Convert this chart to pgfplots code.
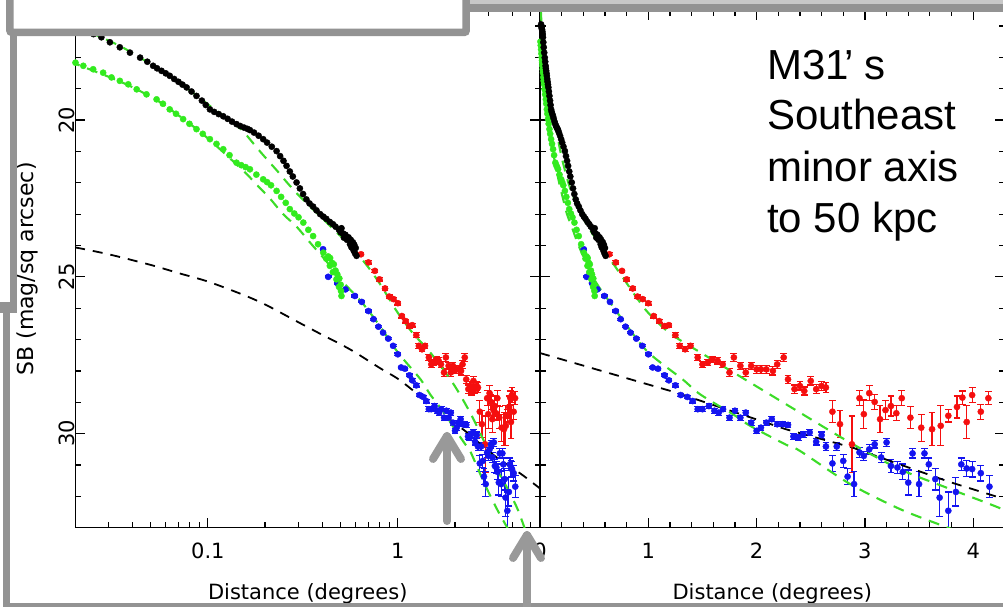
\documentclass[border=0pt]{standalone}
\usepackage{fontspec}
\usepackage{pgfplots}
\usepackage{pgfplotstable}
\pgfplotsset{compat=1.18}
\newfontfamily\pgfont{DejaVu Sans}
\newfontfamily\arialfont{Liberation Sans}
\definecolor{dred}{RGB}{245,15,15}
\definecolor{dblue}{RGB}{20,20,240}
\definecolor{dgreen}{RGB}{50,235,30}
\definecolor{gdash}{RGB}{60,220,40}
\definecolor{boxgray}{RGB}{147,147,147}
\definecolor{lgray}{RGB}{200,200,200}
\definecolor{arrowgray}{RGB}{153,153,153}

\pgfplotstableread{
x y
0.010 16.95
0.013 17.02
0.016 17.07
0.019 17.12
0.022 17.18
0.025 17.26
0.0275 17.36
0.0305 17.52
0.0344 17.68
0.0389 17.85
0.044 18.01
0.048 18.14
0.0515 18.27
0.054 18.35
0.057 18.43
0.060 18.51
0.063 18.59
0.0665 18.69
0.070 18.78
0.0735 18.87
0.0773 18.96
0.082 19.09
0.0871 19.23
0.093 19.38
0.0975 19.52
0.1025 19.66
0.108 19.74
0.114 19.81
0.1205 19.88
0.127 19.96
0.134 20.05
0.1415 20.13
0.148 20.19
0.155 20.24
0.1615 20.28
0.1665 20.32
0.175 20.40
0.185 20.50
0.1955 20.61
0.205 20.72
0.217 20.85
0.230 20.99
0.240 21.15
0.250 21.30
0.2595 21.46
0.270 21.64
0.280 21.80
0.293 21.99
0.305 22.18
0.317 22.36
0.330 22.53
0.343 22.66
0.358 22.76
0.373 22.88
0.390 23.00
0.405 23.08
0.420 23.15
0.4385 23.25
0.455 23.32
0.470 23.40
0.490 23.50
0.500 23.58
0.505 23.45
0.515 23.62
0.520 23.75
0.530 23.66
0.540 23.82
0.550 23.74
0.560 23.96
0.565 23.82
0.570 24.06
0.580 23.90
0.585 24.16
0.590 23.98
0.595 24.25
0.600 24.08
0.606 24.33
}\blackdat

\pgfplotstableread{
x y
0.004 17.50
0.007 17.62
0.010 17.75
0.013 17.88
0.016 18.00
0.0185 18.10
0.0201 18.17
0.0221 18.27
0.0249 18.38
0.0281 18.49
0.0311 18.64
0.0344 18.75
0.0381 18.86
0.0422 19.02
0.0475 19.18
0.0537 19.34
0.058 19.48
0.063 19.66
0.068 19.80
0.0741 19.97
0.080 20.12
0.0871 20.29
0.094 20.44
0.1025 20.61
0.111 20.76
0.1205 20.93
0.130 21.12
0.1415 21.36
0.150 21.44
0.158 21.50
0.1665 21.57
0.180 21.74
0.1955 21.89
0.205 21.98
0.215 22.08
0.230 22.26
0.243 22.45
0.257 22.64
0.270 22.84
0.285 22.98
0.300 23.10
0.318 23.27
0.338 23.50
0.358 23.70
0.380 23.96
0.405 24.23
0.420 24.42
0.430 24.35
0.4385 24.65
0.440 24.40
0.450 24.55
0.455 24.85
0.460 24.60
0.470 24.80
0.475 25.08
0.480 24.92
0.490 25.32
0.492 25.05
0.500 25.25
0.502 25.45
0.505 25.61
}\greendat

\pgfplotstableread{
x y e
0.64 24.28 0.05
0.70 24.54 0.05
0.757 24.81 0.05
0.80 25.08 0.05
0.856 25.37 0.05
0.90 25.63 0.05
0.948 25.71 0.05
1.00 25.84 0.06
1.05 26.25 0.06
1.10 26.41 0.06
1.15 26.57 0.06
1.19 26.54 0.06
1.25 26.86 0.08
1.29 27.20 0.08
1.34 27.31 0.08
1.39 27.20 0.08
1.456 27.57 0.10
1.50 27.79 0.10
1.55 27.73 0.10
1.59 27.63 0.10
1.64 27.68 0.10
1.687 27.79 0.10
1.75 28.05 0.12
1.79 27.57 0.12
1.85 27.84 0.12
1.90 28.05 0.12
1.95 27.84 0.12
2.00 27.95 0.12
2.04 27.95 0.12
2.09 27.95 0.12
2.15 28.00 0.13
2.19 27.79 0.13
2.25 27.57 0.13
2.29 28.27 0.13
2.35 28.58 0.13
2.40 28.48 0.13
2.44 28.64 0.13
2.50 28.32 0.13
2.55 28.58 0.15
2.60 28.48 0.15
2.64 28.53 0.15
2.70 29.30 0.35
2.77 29.70 0.43
2.88 30.34 0.90
2.95 28.87 0.24
2.99 29.38 0.45
3.04 28.71 0.24
3.09 28.99 0.24
3.14 29.54 0.43
3.19 29.25 0.30
3.24 29.12 0.32
3.29 29.35 0.24
3.34 28.87 0.24
3.42 29.49 0.35
3.52 29.81 0.43
3.62 29.86 0.53
3.70 29.75 0.64
3.77 29.43 0.20
3.85 29.15 0.35
3.90 28.85 0.21
3.94 29.63 0.53
3.99 28.77 0.24
4.07 29.30 0.24
4.14 28.87 0.21
}\reddat

\pgfplotstableread{
x y e
0.404 24.12 0.03
0.43 25.00 0.03
0.48 25.20 0.03
0.53 25.40 0.03
0.594 25.61 0.03
0.646 25.80 0.03
0.70 26.09 0.03
0.745 26.35 0.03
0.79 26.59 0.03
0.836 26.78 0.03
0.89 26.97 0.03
0.944 27.20 0.03
1.00 27.47 0.04
1.04 27.89 0.04
1.09 27.93 0.04
1.15 28.14 0.04
1.19 28.30 0.05
1.25 28.46 0.05
1.30 28.77 0.05
1.36 28.83 0.05
1.41 28.96 0.06
1.456 29.22 0.08
1.50 29.22 0.08
1.56 29.12 0.08
1.61 29.27 0.08
1.65 29.33 0.08
1.69 29.22 0.08
1.75 29.49 0.08
1.80 29.27 0.08
1.85 29.49 0.08
1.90 29.33 0.08
1.95 29.65 0.08
2.00 29.91 0.08
2.04 29.81 0.08
2.09 29.65 0.08
2.14 29.54 0.08
2.19 29.70 0.08
2.24 29.70 0.08
2.29 29.72 0.08
2.34 30.09 0.10
2.385 30.12 0.10
2.43 30.02 0.10
2.49 29.96 0.10
2.55 30.26 0.10
2.60 30.05 0.10
2.64 30.41 0.12
2.70 30.95 0.25
2.74 30.41 0.12
2.80 30.87 0.20
2.84 31.37 0.25
2.90 31.61 0.40
2.95 30.60 0.15
2.99 30.71 0.15
3.04 30.50 0.15
3.09 30.34 0.12
3.15 30.76 0.15
3.20 30.28 0.12
3.24 31.03 0.20
3.30 31.08 0.20
3.35 31.22 0.25
3.40 31.56 0.40
3.44 30.63 0.15
3.50 31.61 0.40
3.55 30.63 0.15
3.59 30.98 0.20
3.65 31.45 0.35
3.69 32.04 0.60
3.77 32.46 0.60
3.84 31.86 0.45
3.89 30.98 0.20
3.94 31.11 0.25
3.99 31.13 0.25
4.07 31.26 0.25
4.15 31.69 0.35
}\bluedat

\pgfplotstableread{
x y
0.004 15.9
0.008 16.5
0.012 16.8
0.016 16.98
0.02 17.08
0.025 17.26
0.035 17.66
0.05 18.22
0.075 18.92
0.1 19.5
0.125 19.93
0.15 20.3
0.17 20.68
0.19 21.03
0.21 21.33
0.234 21.65
0.26 21.98
0.29 22.3
0.318 22.55
0.358 22.85
0.405 23.16
0.46 23.5
0.52 23.8
0.606 24.23
0.70 24.7
0.80 25.2
0.90 25.7
1.0 26.15
1.2 26.8
1.48 27.41
1.94 28.37
2.40 29.33
2.86 30.28
3.32 31.13
3.79 31.77
4.27 32.41
4.7 33.1
}\curveA

\pgfplotstableread{
x y
0.004 16.9
0.008 17.35
0.012 17.7
0.016 17.95
0.02 18.2
0.03 18.62
0.04 18.95
0.055 19.4
0.07 19.85
0.09 20.35
0.111 20.83
0.135 21.3
0.16 21.72
0.18 22.05
0.212 22.5
0.249 23.0
0.293 23.4
0.35 23.95
0.42 24.5
0.517 25.18
0.559 25.4
0.654 25.85
0.8 26.55
1.0 27.41
1.317 28.27
1.48 28.75
1.79 29.4
1.94 29.75
2.27 30.35
2.40 30.55
2.86 31.6
3.32 32.4
3.72 32.94
3.85 33.1
}\curveB

\pgfplotstableread{
x y
0.02 24.06
0.03 24.28
0.05 24.62
0.07 24.88
0.1 25.15
0.15 25.55
0.2 25.88
0.3 26.45
0.4 26.85
0.5 27.15
0.6 27.42
0.8 27.9
1.0 28.25
1.2 28.62
1.4 28.95
1.88 29.55
2.3 29.95
2.8 30.4
3.3 30.75
3.9 31.05
4.6 31.35
5.6 31.75
}\halolog

\pgfplotstableread{
x y
0 27.43
1.256 28.69
2.27 29.86
2.89 30.45
3.32 30.98
3.79 31.55
4.3 32.1
}\halolin

\pgfplotsset{
  mypanel/.style={
    scale only axis, width=464.5pt, height=517.4pt,
    y dir=reverse, ymin=16.5, ymax=33,
    ytick={20,25,30},
    minor ytick={17,18,19,21,22,23,24,26,27,28,29,31,32,33},
    axis line style={line width=1.3pt},
    tick style={line width=1.2pt, black},
    major tick length=10pt, minor tick length=5.5pt,
    tick label style={font=\pgfont\fontsize{21}{25}\selectfont, inner sep=0pt},
    label style={font=\pgfont\fontsize{21}{25}\selectfont},
    xticklabel style={anchor=north, yshift=-15pt},
    xlabel={Distance (degrees)},
    xlabel style={at={(axis description cs:0.5,-0.1397)}, anchor=base},
  },
  blk/.style={only marks, mark=*, mark size=3.1pt, black},
  grn/.style={only marks, mark=*, mark size=3.1pt, dgreen},
  redp/.style={only marks, mark=*, mark size=3.1pt, dred,
    error bars/.cd, y dir=both, y explicit,
    error bar style={line width=1.2pt, dred},
    error mark options={rotate=90, dred, mark size=3.4pt, line width=1.2pt}},
  bluep/.style={only marks, mark=*, mark size=3.1pt, dblue,
    error bars/.cd, y dir=both, y explicit,
    error bar style={line width=1.2pt, dblue},
    error mark options={rotate=90, dblue, mark size=3.4pt, line width=1.2pt}},
  gline/.style={no marks, smooth, gdash, line width=2.1pt, dash pattern=on 11pt off 8pt},
  kline/.style={no marks, smooth, black, line width=1.8pt, dash pattern=on 10pt off 8pt},
}

\begin{document}
\begin{tikzpicture}
\useasboundingbox (0pt,0pt) rectangle (1003pt,607pt);

\begin{axis}[mypanel, at={(75.5pt,79.3pt)}, anchor=south west,
  xmode=log, xmin=0.0201, xmax=5.6,
  xtick={0.1,1}, xticklabels={0.1,1},
  minor xtick={0.02,0.03,0.04,0.05,0.06,0.07,0.08,0.09,0.2,0.3,0.4,0.5,0.6,0.7,0.8,0.9,2,3,4,5},
  yticklabels={20,25,30},
  yticklabel style={rotate=90, anchor=south},
  ylabel={SB (mag/sq arcsec)},
  ylabel style={at={(axis description cs:-0.0908,0.5)}, anchor=base, font=\pgfont\fontsize{22}{26}\selectfont},
]
\addplot[redp] table[x=x, y=y, y error=e] {\reddat};
\addplot[bluep] table[x=x, y=y, y error=e] {\bluedat};
\addplot[grn] table[x=x, y=y] {\greendat};
\addplot[blk] table[x=x, y=y] {\blackdat};
\addplot[kline] table[x=x, y=y] {\halolog};
\addplot[gline] table[x=x, y=y] {\curveA};
\addplot[gline] table[x=x, y=y] {\curveB};
\end{axis}

\begin{axis}[mypanel, at={(540pt,79.3pt)}, anchor=south west,
  xmin=0, xmax=4.289,
  xtick={0,1,2,3,4}, xticklabels={0,1,2,3,4},
  minor x tick num=4,
  yticklabels={},
]
\addplot[redp] table[x=x, y=y, y error=e] {\reddat};
\addplot[bluep] table[x=x, y=y, y error=e] {\bluedat};
\addplot[grn] table[x=x, y=y] {\greendat};
\addplot[blk] table[x=x, y=y] {\blackdat};
\addplot[no marks, black, line width=1.8pt, dash pattern=on 10pt off 8pt] table[x=x, y=y] {\halolin};
\addplot[gline] table[x=x, y=y] {\curveA};
\addplot[gline] table[x=x, y=y] {\curveB};
\end{axis}

% slide overlays
\fill[lgray] (466pt,603pt) rectangle (1010pt,612pt);
\fill[boxgray] (466pt,594.6pt) rectangle (1010pt,603pt);
\draw[line width=7.5pt, draw=boxgray, fill=white, rounded corners=2pt] (9.9pt,574.6pt) rectangle (466.2pt,620pt);
\fill[boxgray] (9.6pt,300pt) rectangle (16.5pt,572pt);
\fill[boxgray] (-2pt,293.7pt) rectangle (16.5pt,305.3pt);
\fill[boxgray] (2.7pt,-2pt) rectangle (10pt,305pt);
\fill[boxgray] (2.7pt,-2pt) rectangle (1010pt,3.5pt);
\draw[arrowgray, line width=8pt, line cap=round, line join=round] (447pt,86pt) -- (447pt,171pt);
\draw[arrowgray, line width=8pt, line cap=round, line join=round] (433pt,148pt) -- (447pt,171pt) -- (461pt,148pt);
\draw[arrowgray, line width=8pt, line cap=round, line join=round] (527pt,-6pt) -- (527pt,72pt);
\draw[arrowgray, line width=8pt, line cap=round, line join=round] (513pt,49pt) -- (527pt,72pt) -- (541pt,49pt);

\node[anchor=base west, inner sep=0pt, font=\arialfont\fontsize{42}{50}\selectfont] at (767pt,527pt) {M31\kern-4pt’\kern10pt s};
\node[anchor=base west, inner sep=0pt, font=\arialfont\fontsize{42}{50}\selectfont] at (767pt,477pt) {Southeast};
\node[anchor=base west, inner sep=0pt, font=\arialfont\fontsize{42}{50}\selectfont] at (767pt,425pt) {minor axis};
\node[anchor=base west, inner sep=0pt, font=\arialfont\fontsize{42}{50}\selectfont] at (767pt,374pt) {to 50 kpc};
\end{tikzpicture}
\end{document}
